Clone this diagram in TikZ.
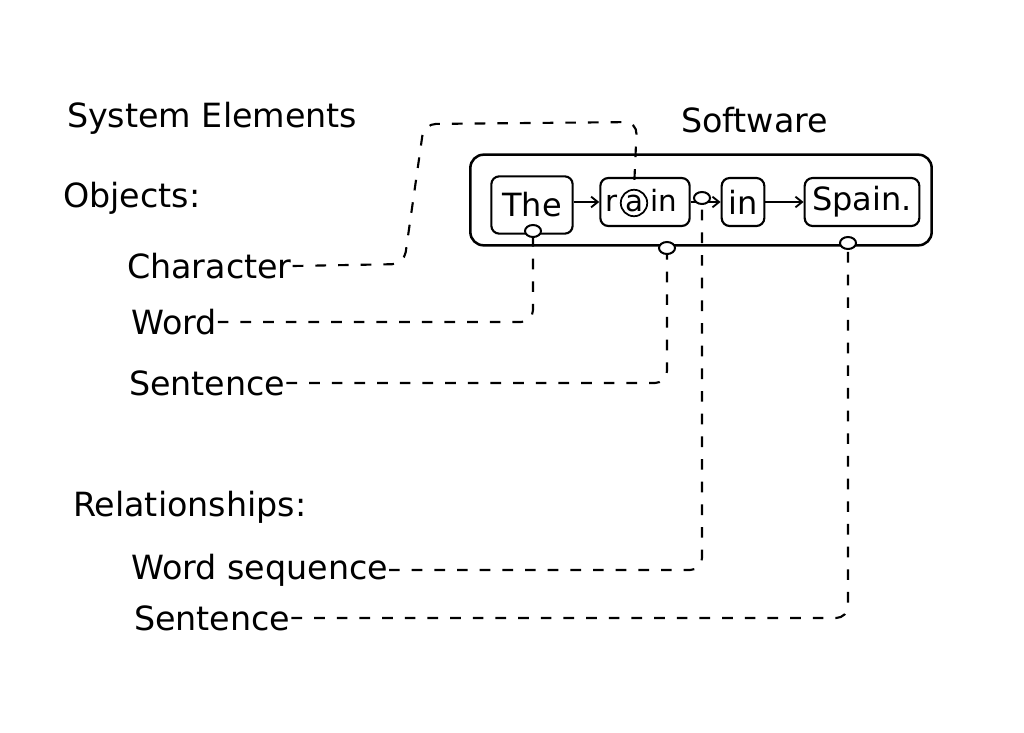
\documentclass[tikz,border=0pt]{standalone}
\usepackage{fontspec}
\setmainfont{DejaVu Sans}
\usetikzlibrary{arrows.meta,shapes.geometric}
\begin{document}
\begin{tikzpicture}[x=0.75pt,y=-0.75pt,line width=1.6pt,
  lbl/.style={anchor=west,inner sep=0pt,font=\fontsize{25}{29}\selectfont},
  wordbox/.style={draw,rounded corners=6pt,inner sep=0pt,minimum height=36pt,font=\fontsize{24}{28}\selectfont},
  outerbox/.style={draw,rounded corners=10pt,minimum width=346pt,minimum height=68pt,line width=1.9pt},
  link/.style={dash pattern=on 8pt off 9pt,line width=1.6pt,rounded corners=9pt},
  port/.style={ellipse,draw,fill=white,minimum width=12pt,minimum height=9pt,inner sep=0pt,line width=1.5pt},
  seq/.style={-{Straight Barb[length=5pt,width=8pt]},line width=1.4pt}]
\useasboundingbox (0,0) rectangle (1024,732);
% labels
\node[lbl] (sys) at (66,118) {System Elements};
\node[lbl] (obj) at (62,198) {Objects:};
\node[lbl] (chr) at (126,266) {Character};
\node[lbl] (wrd) at (130,322) {Word};
\node[lbl] (sen) at (128,383) {Sentence};
\node[lbl] (rel) at (72,507) {Relationships:};
\node[lbl] (wsq) at (130,570) {Word sequence};
\node[lbl] (sen2) at (133,618) {Sentence};
\node[lbl] (sw) at (680,120) {Software};
% software box
\node[outerbox] (box) at (701,200) {};
\node[wordbox,minimum width=61pt,minimum height=43pt] (the) at (532,205) {The};
\node[wordbox,minimum width=67pt] (rain) at (645,202) {};
\node[circle,draw,inner sep=0.5pt,line width=1.3pt,font=\fontsize{22}{26}\selectfont] (ach) at (634,203) {a};
\node[anchor=base east,inner sep=1pt,font=\fontsize{22}{26}\selectfont] (rr) at (ach.base west) {r};
\node[anchor=base west,inner sep=1pt,font=\fontsize{22}{26}\selectfont] (rin) at (ach.base east) {in};
\node[wordbox,minimum width=32pt] (inw) at (743,202) {in};
\node[wordbox,minimum width=86pt] (spain) at (862,202) {Spain.};
\draw[seq] (the.east |- rain) -- (rain.west);
\draw[seq] (rain) -- (inw);
\draw[seq] (inw) -- (spain);
% ports
\node[port] (p1) at (533,231) {};
\node[port] (p2) at (702,198) {};
\node[port] (p3) at (667,248) {};
\node[port] (p4) at (848,243) {};
% connectors
\draw[link] (chr.east) -- (404,264) -- (424,124) -- (637,122) -- (ach.north);
\draw[link] (wrd.east) -| (p1.south);
\draw[link] (sen.east) -| (p3.south);
\draw[link] (wsq.east) -| (p2.south);
\draw[link] (sen2.east) -| (p4.south);
\end{tikzpicture}
\end{document}
